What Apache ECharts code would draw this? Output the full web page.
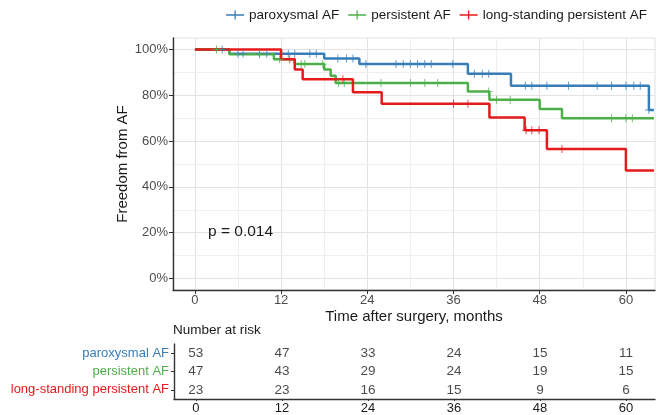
<!DOCTYPE html>
<html>
<head>
<meta charset="utf-8">
<script src="https://cdn.jsdelivr.net/npm/echarts@6/dist/echarts.min.js"></script>
<style>html,body{margin:0;padding:0;background:#fff}#c{width:660px;height:415px}</style>
</head>
<body>
<div id="c"></div>
<script>
// ---- data ----
const seriesNames = ['paroxysmal AF', 'persistent AF', 'long-standing persistent AF'];
const colors = ['#377EB8', '#4DAF4A', '#E41A1C'];

const parTimes = [0, 4.8, 18.0, 22.9, 38.0, 44.0, 63.2, 63.9];
const parSurv  = [100, 98.1, 96.1, 93.6, 89.4, 84.2, 73.6, 73.6];
const parCensor = [3.8, 6.0, 6.7, 9.0, 10.0, 13.0, 13.9, 16.0, 16.9, 19.9, 21.1, 22.0, 23.8, 28.0, 29.0, 30.0, 31.0, 32.0, 32.9, 35.9, 38.9, 40.0, 40.9, 46.0, 46.9, 49.0, 52.0, 56.0, 58.0, 60.0, 61.1, 62.0, 63.2];

const perTimes = [0, 4.8, 11.0, 13.9, 18.0, 18.9, 19.6, 38.0, 41.0, 48.0, 51.1, 63.9];
const perSurv  = [100, 97.9, 95.7, 93.6, 91.3, 88.5, 85.4, 81.7, 78.0, 74.0, 70.0, 70.0];
const perCensor = [3.0, 9.0, 11.8, 14.8, 15.3, 17.8, 20.0, 20.8, 25.9, 30.0, 32.0, 33.8, 40.9, 42.0, 43.9, 58.0, 60.0, 60.9];

const lspTimes = [0, 12.0, 13.9, 15.0, 22.0, 26.0, 41.0, 45.9, 49.0, 60.0, 63.9];
const lspSurv  = [100, 95.7, 91.3, 87.0, 81.3, 76.3, 70.3, 64.7, 56.6, 47.2, 47.2];
const lspCensor = [13.2, 20.6, 36.0, 38.0, 46.1, 46.9, 47.9, 51.1];

const xTicks = [0, 12, 24, 36, 48, 60];
const yTicks = [0, 20, 40, 60, 80, 100];

const riskTimes = [0, 12, 24, 36, 48, 60];
const riskPar = [53, 47, 33, 24, 15, 11];
const riskPer = [47, 43, 29, 24, 19, 15];
const riskLsp = [23, 23, 16, 15, 9, 6];

// ---- build ----
const FONT = 'Liberation Sans, Arial, Helvetica, sans-serif';
const X_MIN = -3.05, X_MAX = 64.05;
const curves = [
  {t: parTimes, s: parSurv, c: parCensor},
  {t: perTimes, s: perSurv, c: perCensor},
  {t: lspTimes, s: lspSurv, c: lspCensor}
];
const risks = [riskPar, riskPer, riskLsp];

function survAt(times, surv, t) {
  let v = surv[0];
  for (let i = 0; i < times.length; i++) if (times[i] <= t) v = surv[i];
  return v;
}

const plusPath = 'path://M0,4.4h10v1.2h-10z M4.4,0h1.2v10h-1.2z';
const legendIcon = 'path://M0,4.3h20v1.4h-20z M9.3,0h1.4v10h-1.4z';

const gridMajor = '#e3e3e3', gridMinor = '#efefef';
const gridLines = [];
for (let m = 0; m <= 60; m += 6) gridLines.push({xAxis: m, lineStyle: {color: m % 12 === 0 ? gridMajor : gridMinor, width: 1, type: 'solid'}});
for (let p = 0; p <= 100; p += 10) gridLines.push({yAxis: p, lineStyle: {color: p % 20 === 0 ? gridMajor : gridMinor, width: 1, type: 'solid'}});

const series = [{
  type: 'line', xAxisIndex: 0, yAxisIndex: 0, data: [], silent: true, z: 0,
  markLine: {silent: true, z: 0, symbol: 'none', animation: false, label: {show: false}, data: gridLines}
}];

curves.forEach((cv, i) => {
  series.push({
    name: seriesNames[i], type: 'line', step: 'end', xAxisIndex: 0, yAxisIndex: 0,
    showSymbol: false, symbol: 'none', z: 3 + i * 0.01,
    lineStyle: {color: colors[i], width: 2.5},
    itemStyle: {color: colors[i]},
    data: cv.t.map((t, k) => [t, cv.s[k]])
  });
  series.push({
    name: seriesNames[i], type: 'scatter', xAxisIndex: 0, yAxisIndex: 0,
    symbol: plusPath, symbolSize: 8, z: 4,
    itemStyle: {color: colors[i]},
    data: cv.c.map(t => [t, survAt(cv.t, cv.s, t)])
  });
});

risks.forEach((r, i) => {
  series.push({
    type: 'scatter', xAxisIndex: 1, yAxisIndex: 1, symbolSize: 1,
    itemStyle: {color: 'rgba(0,0,0,0)'}, silent: true, z: 5,
    label: {show: true, position: 'inside', formatter: p => String(p.value[2]),
      color: '#1a1a1a', fontSize: 13.5, fontFamily: FONT},
    data: riskTimes.map((t, k) => [t, i, r[k]])
  });
});

const option = {
  animation: false,
  backgroundColor: '#fff',
  textStyle: {fontFamily: FONT},
  legend: {
    top: 3, right: 8, itemWidth: 18, itemHeight: 10, itemGap: 9, selectedMode: false,
    textStyle: {fontSize: 13.5, color: '#1a1a1a', fontFamily: FONT},
    data: seriesNames.map((n, i) => ({name: n, icon: legendIcon, itemStyle: {color: colors[i]}}))
  },
  grid: [
    {left: 173, right: 5, top: 38, bottom: 125, show: true, borderColor: '#e0e0e0', borderWidth: 1},
    {left: 174, right: 5, top: 344, bottom: 16}
  ],
  xAxis: [{
    type: 'value', gridIndex: 0, min: X_MIN, max: X_MAX,
    name: 'Time after surgery, months', nameLocation: 'middle', nameGap: 19, nameMoveOverlap: false,
    nameTextStyle: {fontSize: 15, color: '#1a1a1a', fontFamily: FONT},
    axisLine: {show: true, onZero: false, lineStyle: {color: '#333', width: 1.4}},
    axisTick: {show: true, length: 4, customValues: xTicks, lineStyle: {color: '#333'}},
    axisLabel: {customValues: xTicks, fontSize: 13, color: '#4d4d4d', margin: 4, fontFamily: FONT},
    splitLine: {show: false}, minorSplitLine: {show: false}
  }, {
    type: 'value', gridIndex: 1, min: X_MIN, max: X_MAX,
    axisLine: {show: true, onZero: false, lineStyle: {color: '#333', width: 1.4}},
    axisTick: {show: true, length: 2, customValues: xTicks, lineStyle: {color: '#333'}},
    axisLabel: {customValues: xTicks, fontSize: 13, color: '#1a1a1a', margin: 3, fontFamily: FONT},
    splitLine: {show: false}, minorSplitLine: {show: false}, splitArea: {show: false}
  }],
  yAxis: [{
    type: 'value', gridIndex: 0, min: -5, max: 105,
    name: 'Freedom from AF', nameLocation: 'middle', nameGap: 43, nameRotate: 90, nameMoveOverlap: false,
    nameTextStyle: {fontSize: 15, color: '#1a1a1a', fontFamily: FONT},
    axisLine: {show: true, onZero: false, lineStyle: {color: '#333', width: 1.4}},
    axisTick: {show: true, length: 4, customValues: yTicks, lineStyle: {color: '#333'}},
    axisLabel: {customValues: yTicks, formatter: v => v + '%', fontSize: 13, color: '#4d4d4d', margin: 5, fontFamily: FONT},
    splitLine: {show: false}
  }, {
    type: 'category', gridIndex: 1, inverse: true,
    data: seriesNames.map((n, i) => ({value: n, textStyle: {color: colors[i]}})),
    axisLine: {show: true, onZero: false, lineStyle: {color: '#333', width: 1.4}},
    axisTick: {show: true, length: 3, alignWithLabel: true, lineStyle: {color: '#333'}},
    axisLabel: {fontSize: 13, margin: 5, fontFamily: FONT},
    splitLine: {show: false}, splitArea: {show: false}
  }],
  graphic: [
    {type: 'text', left: 208, top: 224, z: 10, style: {text: 'p = 0.014', fontSize: 15.5, fill: '#1a1a1a', fontFamily: FONT}},
    {type: 'text', left: 173, top: 323, style: {text: 'Number at risk', fontSize: 13.5, fill: '#1a1a1a', fontFamily: FONT}}
  ],
  series: series
};

const chart = echarts.init(document.getElementById('c'), null, {renderer: 'canvas'});
chart.setOption(option);
</script>
</body>
</html>
